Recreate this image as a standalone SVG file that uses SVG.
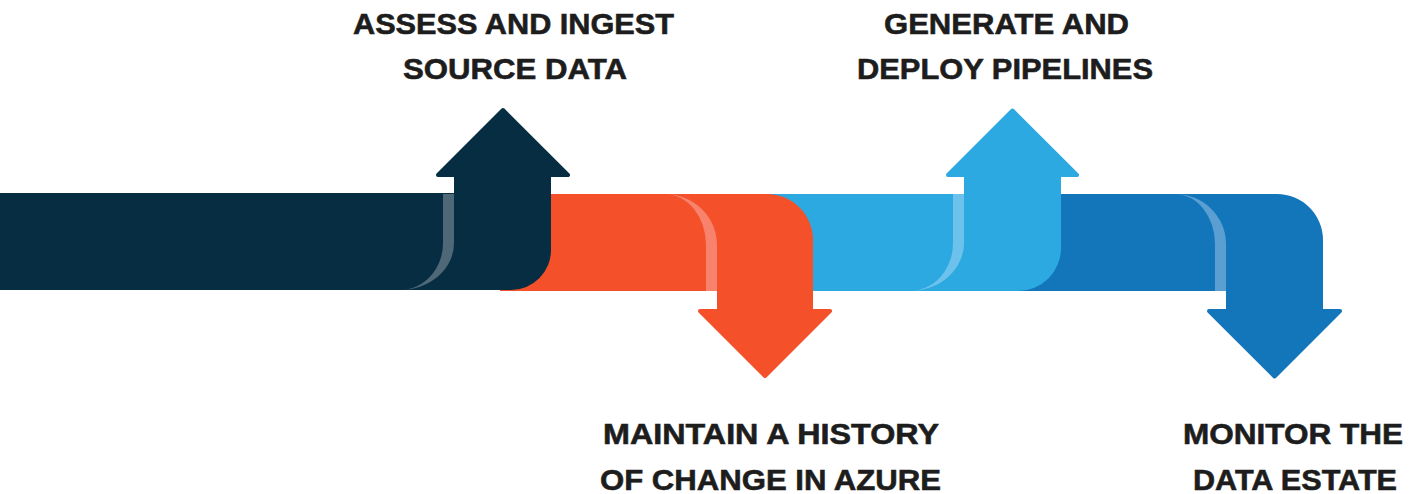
<svg xmlns="http://www.w3.org/2000/svg" width="1417" height="494" viewBox="0 0 1417 494">
  <style>
    .lbl { font-family: "Liberation Sans", Arial, sans-serif; font-weight: bold; font-size: 30px; fill: #1d1d1d; stroke: #1d1d1d; stroke-width: 0.6; text-anchor: middle; }
    .navy { fill: #062d41; }
    .navy-h { fill: #062d41; stroke: #062d41; stroke-width: 4; stroke-linejoin: round; }
    .navy-s { fill: #4e6877; }
    .orange { fill: #f4502a; }
    .orange-h { fill: #f4502a; stroke: #f4502a; stroke-width: 4; stroke-linejoin: round; }
    .orange-s { fill: #f8826c; }
    .sky { fill: #2ca9e1; }
    .sky-h { fill: #2ca9e1; stroke: #2ca9e1; stroke-width: 4; stroke-linejoin: round; }
    .sky-s { fill: #6cc2ec; }
    .blue { fill: #1476ba; }
    .blue-h { fill: #1476ba; stroke: #1476ba; stroke-width: 4; stroke-linejoin: round; }
    .blue-s { fill: #5b9fd2; }
  </style>
  <rect width="1417" height="494" fill="#ffffff"/>

  <g id="step4-monitor">
    <path class="blue" d="M1000,194 H1277 A46 46 0 0 1 1323 240 V312 H1226 V291 H1000 Z"/>
    <polygon class="blue-h" points="1209,311 1274.5,376.5 1340,311"/>
    <path class="blue-s" d="M1175,194 A51 50 0 0 1 1226 244 V291 H1215 V244 A40 50 0 0 0 1175 194 Z"/>
    <text class="lbl" x="1293" y="444" textLength="220" lengthAdjust="spacingAndGlyphs">MONITOR THE</text>
    <text class="lbl" x="1295" y="490" textLength="204" lengthAdjust="spacingAndGlyphs">DATA ESTATE</text>
  </g>

  <g id="step3-generate">
    <path class="sky" d="M740,194 H964 V174 H1061 V248 A43 43 0 0 1 1018 291 H740 Z"/>
    <polygon class="sky-h" points="948,175 1012.5,110.5 1077,175"/>
    <path class="sky-s" d="M953,194 H964 V243 A54 48 0 0 1 910 291 A43 48 0 0 0 953 243 Z"/>
    <text class="lbl" x="1006.5" y="34" textLength="245" lengthAdjust="spacingAndGlyphs">GENERATE AND</text>
    <text class="lbl" x="1005" y="79" textLength="296" lengthAdjust="spacingAndGlyphs">DEPLOY PIPELINES</text>
  </g>

  <g id="step2-maintain">
    <path class="orange" d="M500,194 H767 A46 46 0 0 1 813 240 V312 H717 V291 H500 Z"/>
    <polygon class="orange-h" points="700,311 765,376 830,311"/>
    <path class="orange-s" d="M665,194 A52 51 0 0 1 717 245 V291 H706 V245 A41 51 0 0 0 665 194 Z"/>
    <text class="lbl" x="771" y="444" textLength="336" lengthAdjust="spacingAndGlyphs">MAINTAIN A HISTORY</text>
    <text class="lbl" x="770.5" y="490" textLength="341" lengthAdjust="spacingAndGlyphs">OF CHANGE IN AZURE</text>
  </g>

  <g id="step1-assess">
    <path class="navy" d="M0,193 H454 V174 H551 V250 A40 40 0 0 1 511 290 H0 Z"/>
    <polygon class="navy-h" points="438,175 503,110 568,175"/>
    <path class="navy-s" d="M443,194 H454 V243 A54 47 0 0 1 400 290 A43 47 0 0 0 443 243 Z"/>
    <text class="lbl" x="513.5" y="34" textLength="321" lengthAdjust="spacingAndGlyphs">ASSESS AND INGEST</text>
    <text class="lbl" x="515" y="79" textLength="224" lengthAdjust="spacingAndGlyphs">SOURCE DATA</text>
  </g>
</svg>
